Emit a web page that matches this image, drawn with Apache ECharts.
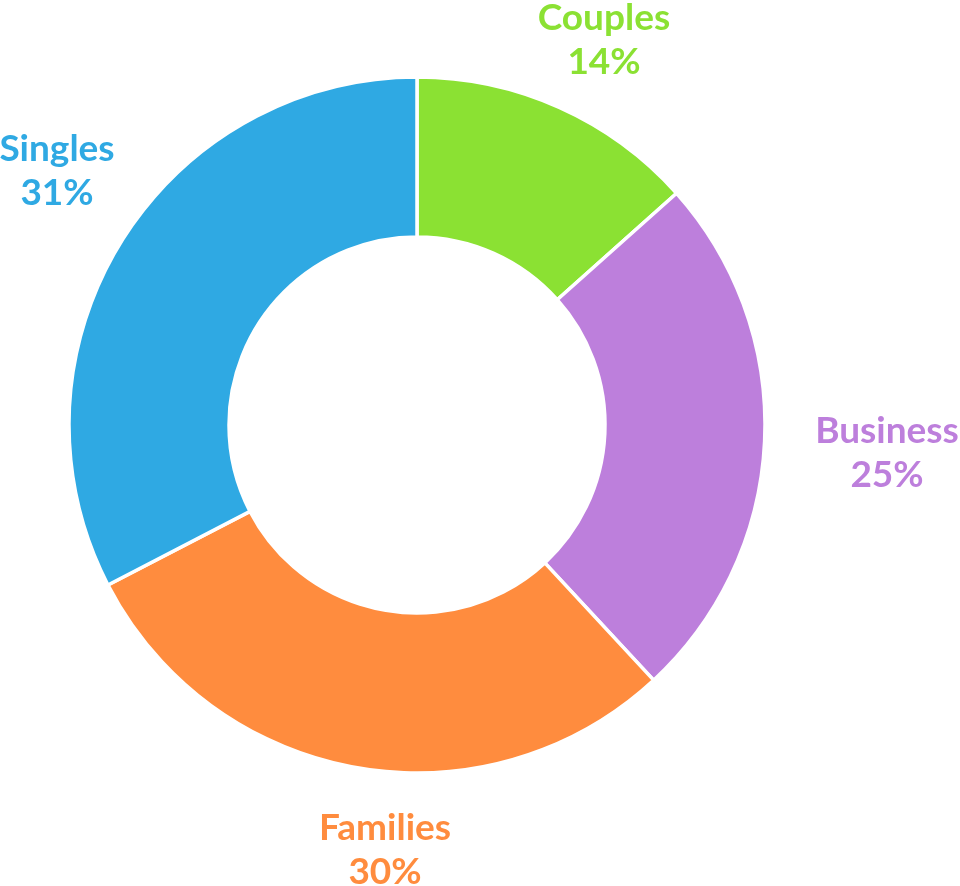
<!DOCTYPE html>
<html>
<head>
<meta charset="utf-8">
<script src="https://cdn.jsdelivr.net/npm/echarts@6/dist/echarts.min.js"></script>
<style>
    html, body { margin: 0; padding: 0; background: #fff; }
    #main { width: 960px; height: 886px; }
</style>
</head>
<body>
<div id="main"></div>
<script>
// segment names, sizes as drawn and printed percentages
var names = ['Couples', 'Business', 'Families', 'Singles'];
var sizes = [13.4, 24.7, 29.3, 32.6];
var pctLabels = ['14%', '25%', '30%', '31%'];
var colors = ['#8be133', '#bd7fdc', '#ff8c3e', '#2fa9e3'];

// where each two-line label sits (block centre)
var labelPos = [[604, 40], [887, 453], [385, 850], [57, 171]];

var chart = echarts.init(document.getElementById('main'));

var data = names.map(function (n, i) {
    return {
        name: n,
        value: sizes[i],
        itemStyle: { color: colors[i] },
        label: { color: colors[i] }
    };
});

chart.setOption({
    animation: false,
    series: [{
        type: 'pie',
        center: [417, 425],
        radius: [188, 348],
        startAngle: 90,
        clockwise: true,
        avoidLabelOverlap: false,
        itemStyle: {
            borderColor: '#fff',
            borderWidth: 3.5
        },
        label: {
            show: true,
            position: 'outside',
            fontFamily: 'Lato',
            fontWeight: 'bold',
            fontSize: 37,
            lineHeight: 44,
            align: 'center',
            formatter: function (p) {
                return p.name + '\n' + pctLabels[p.dataIndex];
            }
        },
        labelLine: { show: false },
        labelLayout: function (params) {
            var pos = labelPos[params.dataIndex];
            return {
                x: pos[0],
                y: pos[1],
                align: 'center',
                verticalAlign: 'middle'
            };
        },
        data: data
    }]
});
</script>
</body>
</html>
